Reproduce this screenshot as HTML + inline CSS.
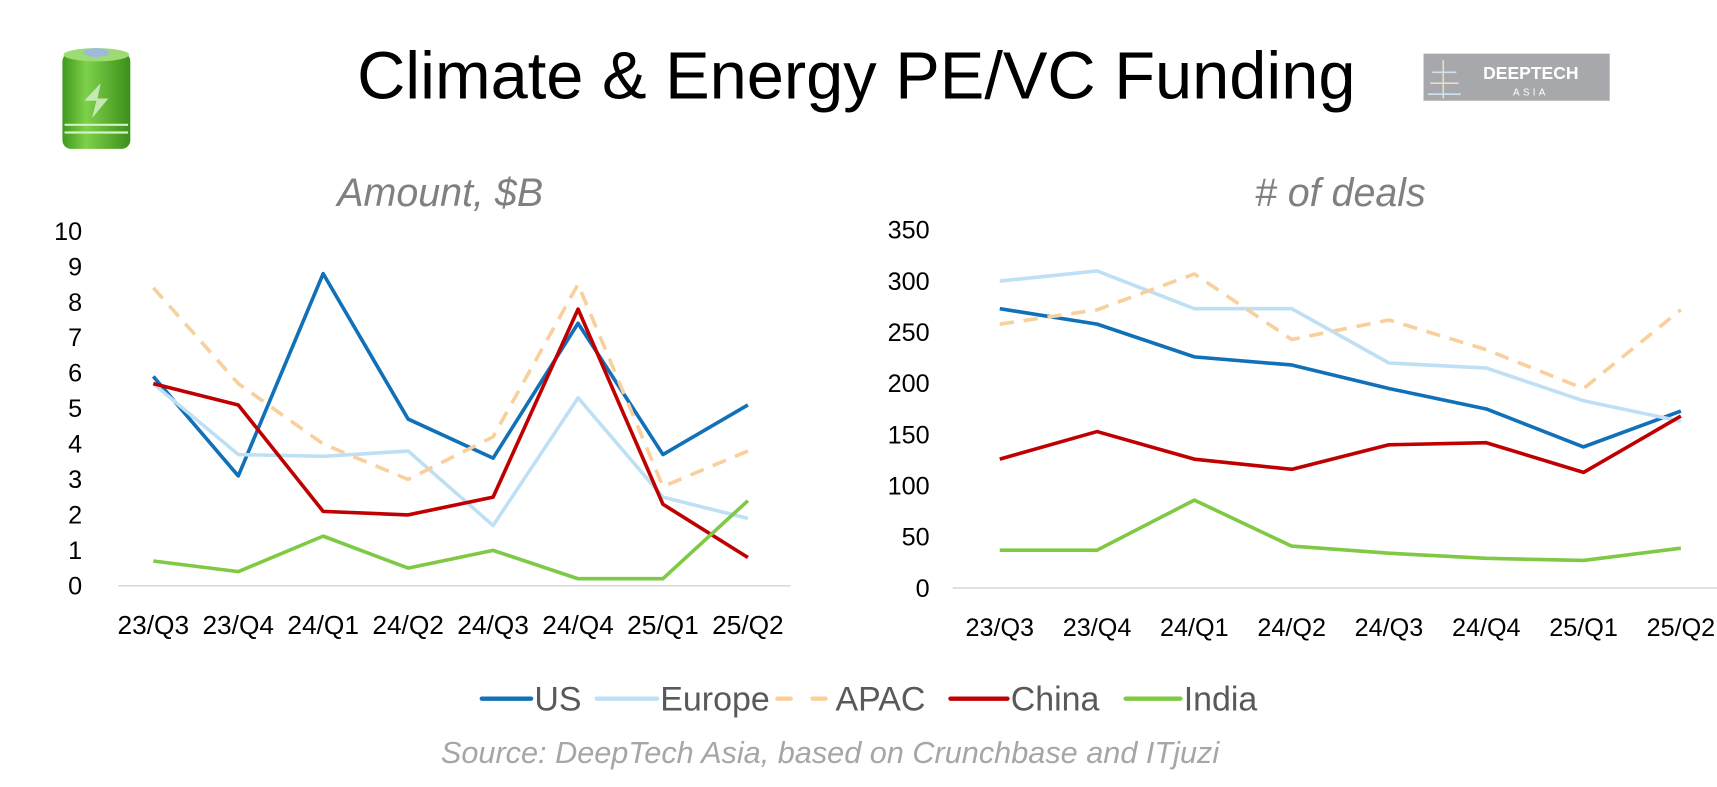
<!DOCTYPE html>
<html><head><meta charset="utf-8"><style>
body{margin:0;background:#fff;width:1717px;height:787px;overflow:hidden;font-family:"Liberation Sans",Arial,sans-serif}
svg{display:block}
</style></head><body>
<svg id="svg" width="1717" height="787" viewBox="0 0 1568 718.7" preserveAspectRatio="none" xmlns="http://www.w3.org/2000/svg">
<defs>
<linearGradient id="bat" x1="0" x2="1"><stop offset="0" stop-color="#3f9a1e"/><stop offset="0.35" stop-color="#7ed14a"/><stop offset="1" stop-color="#3c8f1a"/></linearGradient>
</defs>
<g>
<rect x="57" y="48" width="62" height="88" rx="8" fill="url(#bat)"/>
<ellipse cx="88" cy="50" rx="30" ry="6" fill="#9ddc73"/>
<ellipse cx="88" cy="48" rx="12" ry="4" fill="#9fb9d8"/>
<path d="M92 76 L77 92 L88 92 L84 108 L99 90 L89 90 Z" fill="#d6efc4" opacity="0.85"/>
<line x1="59" y1="114" x2="117" y2="114" stroke="#d6efc4" stroke-width="2"/>
<line x1="59" y1="121" x2="117" y2="121" stroke="#d6efc4" stroke-width="2"/>
</g>
<text x="782" y="90" text-anchor="middle" font-size="61" fill="#000">Climate &amp; Energy PE/VC Funding</text>
<g>
<rect x="1300" y="49" width="170" height="43" fill="#a6a8ab"/>
<line x1="1318" y1="55" x2="1318" y2="90" stroke="#e8dccb" stroke-width="1.5"/>
<line x1="1308" y1="66" x2="1330" y2="66" stroke="#cfe2f0" stroke-width="1.5"/>
<line x1="1306" y1="76" x2="1332" y2="76" stroke="#e8dccb" stroke-width="1.5"/>
<line x1="1304" y1="86" x2="1334" y2="86" stroke="#cfe2f0" stroke-width="1.5"/>
<text x="1398" y="72" text-anchor="middle" font-size="16" font-weight="bold" fill="#fff">DEEPTECH</text>
<text x="1398" y="87" text-anchor="middle" font-size="9" fill="#fff" letter-spacing="3">ASIA</text>
</g>
<text x="402" y="188" text-anchor="middle" font-size="36" font-style="italic" fill="#808080">Amount, $B</text>
<text x="1224" y="188" text-anchor="middle" font-size="36" font-style="italic" fill="#808080"># of deals</text>
<g id="legend"></g>
<text x="758" y="697" text-anchor="middle" font-size="28" font-style="italic" fill="#a6a6a6">Source: DeepTech Asia, based on Crunchbase and ITjuzi</text>
</svg>
<script>
const categories=["23/Q3","23/Q4","24/Q1","24/Q2","24/Q3","24/Q4","25/Q1","25/Q2"];
const seriesNames=["US","Europe","APAC","China","India"];
const amountUS=[5.9,3.1,8.8,4.7,3.6,7.4,3.7,5.1];
const amountEurope=[5.7,3.7,3.65,3.8,1.7,5.3,2.5,1.9];
const amountAPAC=[8.4,5.7,4.0,3.0,4.2,8.5,2.8,3.8];
const amountChina=[5.7,5.1,2.1,2.0,2.5,7.8,2.3,0.8];
const amountIndia=[0.7,0.4,1.4,0.5,1.0,0.2,0.2,2.4];
const dealsUS=[273,258,226,218,195,175,138,173];
const dealsEurope=[300,310,273,273,220,215,183,163];
const dealsAPAC=[258,272,307,243,262,233,195,272];
const dealsChina=[126,153,126,116,140,142,113,168];
const dealsIndia=[37,37,86,41,34,29,27,39];
const amountTicks=[0,1,2,3,4,5,6,7,8,9,10];
const dealsTicks=[0,50,100,150,200,250,300,350];

const NS="http://www.w3.org/2000/svg";
const svg=document.getElementById('svg');
const colors=["#1070b8","#bfe0f4","#f9cf9c","#c00000","#7fc944"];
function mk(tag,attrs,parent){const e=document.createElementNS(NS,tag);for(const k in attrs)e.setAttribute(k,attrs[k]);(parent||svg).appendChild(e);return e;}

function drawChart(cfg){
  const g=mk('g',{});
  
  
  const x=i=>cfg.x0+i*(cfg.x1-cfg.x0)/(categories.length-1);
  const y=v=>cfg.yb-(v/cfg.max)*(cfg.yb-cfg.yt);
  const axis=mk('line',{x1:cfg.ax0,x2:cfg.ax1,y1:cfg.yb,y2:cfg.yb,stroke:'#d9d9d9','stroke-width':1.5},g);
  
  
  cfg.ticks.forEach(t=>{
    const tx=mk('text',{x:cfg.tickX,y:y(t)+8,'text-anchor':'end','font-size':23,fill:'#000'},g);
    tx.textContent=t;
    
    
  });
  categories.forEach((c,i)=>{
    const tx=mk('text',{x:x(i),y:cfg.yb+44,'text-anchor':'middle','font-size':cfg.xfs,fill:'#000'},g);
    tx.textContent=c;
    
    
  });
  cfg.series.forEach((vals,si)=>{
    const d=vals.map((v,i)=>(i?'L':'M')+x(i).toFixed(1)+' '+y(v).toFixed(1)).join(' ');
    const p=mk('path',{d:d,fill:'none',stroke:colors[si],'stroke-width':3.3,'stroke-linejoin':'round'},g);
    if(si===2)p.setAttribute('stroke-dasharray','13 9');
    
    
  });
}
drawChart({name:'amount-chart',x0:140,x1:683,yb:535,yt:211,max:10,ticks:amountTicks,tickX:75,ax0:108,ax1:722,xfs:24,
  series:[amountUS,amountEurope,amountAPAC,amountChina,amountIndia]});
drawChart({name:'deals-chart',x0:913,x1:1535,yb:537,yt:210,max:350,ticks:dealsTicks,tickX:849,ax0:870,ax1:1578,xfs:23,
  series:[dealsUS,dealsEurope,dealsAPAC,dealsChina,dealsIndia]});

const legend=document.getElementById('legend');
const lx=[440,545,710,868,1028];
const lw=[45,55,50,52,50];
seriesNames.forEach((n,i)=>{
  const l=mk('line',{x1:lx[i],x2:lx[i]+lw[i],y1:638,y2:638,stroke:colors[i],'stroke-width':4,'stroke-linecap':'round'},legend);
  if(i===2)l.setAttribute('stroke-dasharray','12 20');
  
  
  const t=mk('text',{x:lx[i]+lw[i]+3,y:649,'font-size':31,fill:'#595959'},legend);
  t.textContent=n;
  
  
});
</script>
</body></html>
